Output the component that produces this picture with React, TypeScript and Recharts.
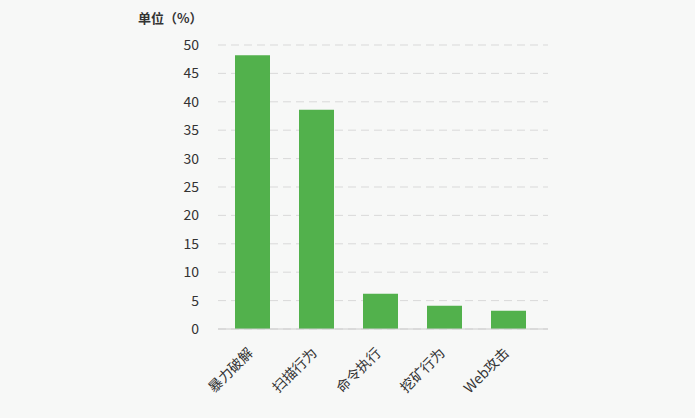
import React from 'react'
import { BarChart, Bar, XAxis, YAxis, CartesianGrid } from 'recharts'

const categories = ['暴力破解', '扫描行为', '命令执行', '挖矿行为', 'Web攻击']
const values = [48.2, 38.6, 6.2, 4.1, 3.2]
const yTicks = [0, 5, 10, 15, 20, 25, 30, 35, 40, 45, 50]

const data = categories.map((name, i) => ({ name, value: values[i] }))

const font = '"Noto Sans CJK SC", "Noto Sans", sans-serif'

const XTick = (props: any) => {
  const { x, y, payload } = props
  return (
    <g transform={`translate(${x - 1},${y + 14})`}>
      <text
        x={0}
        y={0}
        dy={4}
        textAnchor="end"
        transform="rotate(-45)"
        fill="#333"
        fontSize={14}
        fontFamily={font}
      >
        {payload.value}
      </text>
    </g>
  )
}

const App = () => {
  return (
    <div
      style={{
        position: 'fixed',
        left: 0,
        top: 0,
        width: 695,
        height: 418,
        background: '#f7f8f7',
      }}
    >
      {/* unit title */}
      <div
        style={{
          position: 'absolute',
          left: 138,
          top: 8,
          fontSize: 13,
          fontWeight: 'bold',
          color: '#333',
          fontFamily: font,
        }}
      >
        单位（%）
      </div>
      <BarChart
        width={695}
        height={418}
        data={data}
        margin={{ top: 45, right: 147, bottom: 0, left: 178 }}
      >
        <CartesianGrid vertical={false} stroke="#d9d9d9" strokeDasharray="8 5" />
        <XAxis
          dataKey="name"
          interval={0}
          tickLine={false}
          axisLine={{ stroke: '#cccccc' }}
          padding={{ left: 2, right: 8 }}
          tick={<XTick />}
          height={89}
        />
        <YAxis
          width={40}
          domain={[0, 50]}
          ticks={yTicks}
          interval={0}
          axisLine={false}
          tickLine={false}
          tickMargin={13}
          tick={{ fill: '#333', fontSize: 14, fontFamily: font }}
        />
        <Bar dataKey="value" fill="#52b14c" barSize={35} isAnimationActive={false} />
      </BarChart>
    </div>
  )
}

export default App
